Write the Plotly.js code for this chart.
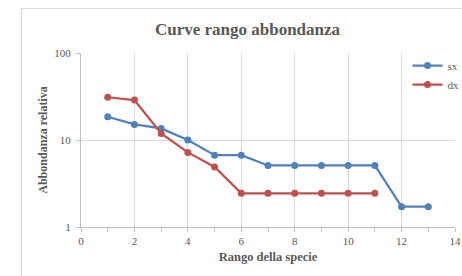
<!DOCTYPE html>
<html>
<head>
<meta charset="utf-8">
<script src="https://cdn.plot.ly/plotly-3.0.1.min.js"></script>
<style>
html,body{margin:0;padding:0;background:#fff;}
#frame{position:absolute;left:21px;top:8px;width:470px;height:300px;border:1px solid #d9d9d9;box-sizing:border-box;}
#chart{position:absolute;left:0;top:0;width:462px;height:276px;}
</style>
</head>
<body>
<div id="frame"></div>
<div id="chart"></div>
<script>
const rankSx = [1,2,3,4,5,6,7,8,9,10,11,12,13];
const valSx  = [18.5,15.1,13.6,10,6.7,6.7,5.1,5.1,5.1,5.1,5.1,1.71,1.71];
const rankDx = [1,2,3,4,5,6,7,8,9,10,11];
const valDx  = [31,28.8,11.9,7.2,4.9,2.44,2.44,2.44,2.44,2.44,2.44];
const xTickVals = [0,2,4,6,8,10,12,14];
const yTickVals = [1,10,100];

const serif = '"Liberation Serif","Times New Roman",serif';
const data = [
  {x: rankSx, y: valSx, name: 'sx', mode: 'lines+markers', type: 'scatter',
   line: {color: '#4F81BD', width: 2.25}, marker: {color: '#4F81BD', size: 7, symbol: 'circle'}},
  {x: rankDx, y: valDx, name: 'dx', mode: 'lines+markers', type: 'scatter',
   line: {color: '#C0504D', width: 2.25}, marker: {color: '#C0504D', size: 7, symbol: 'circle'}}
];
const layout = {
  width: 462, height: 276,
  margin: {l: 81, r: 7, t: 53, b: 49, autoexpand: false},
  paper_bgcolor: 'rgba(0,0,0,0)', plot_bgcolor: 'rgba(0,0,0,0)',
  font: {family: serif, color: '#595959', size: 11},
  title: {text: '<b>Curve rango abbondanza</b>', font: {family: serif, size: 17, color: '#595959'},
          x: 247.5/462, xanchor: 'center', y: 1 - 29/276, yanchor: 'middle'},
  showlegend: true,
  legend: {x: 0.873, xanchor: 'left', y: 1.011, yanchor: 'top', bgcolor: 'rgba(0,0,0,0)',
           font: {family: serif, size: 11, color: '#595959'}, tracegroupgap: 0},
  xaxis: {range: [0, 14], tickvals: xTickVals, ticktext: xTickVals.map(String),
          showgrid: true, gridcolor: '#d9d9d9', gridwidth: 1, zeroline: false,
          showline: true, linecolor: '#bfbfbf', linewidth: 1,
          ticks: 'outside', ticklen: 4, tickcolor: '#bfbfbf',
          minor: {dtick: 1, ticks: 'outside', ticklen: 4, tickcolor: '#bfbfbf', showgrid: false},
          tickfont: {family: serif, size: 11, color: '#595959'},
          title: {text: '<b>Rango della specie</b>', font: {family: serif, size: 12.5, color: '#595959'}, standoff: 6}},
  yaxis: {type: 'log', range: [0, 2], tickvals: yTickVals, ticktext: yTickVals.map(String),
          showgrid: true, gridcolor: '#d9d9d9', gridwidth: 1, zeroline: false,
          showline: true, linecolor: '#bfbfbf', linewidth: 1,
          ticks: 'outside', ticklen: 4, tickcolor: '#bfbfbf', ticklabelstandoff: 3,
          tickfont: {family: serif, size: 11, color: '#595959'},
          title: {text: '<b>Abbondanza relativa</b>', font: {family: serif, size: 12, color: '#595959'}, standoff: 4}}
};
Plotly.newPlot('chart', data, layout, {displayModeBar: false, staticPlot: true});
</script>
</body>
</html>
